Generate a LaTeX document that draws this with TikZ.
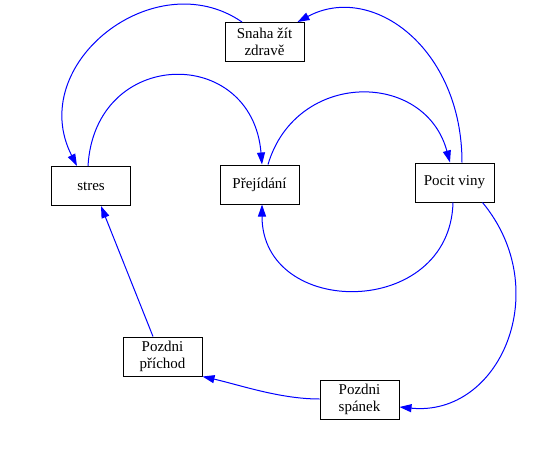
\documentclass[tikz,border=0pt]{standalone}
\usepackage{fontspec}
\setmainfont{Liberation Serif}
\usetikzlibrary{arrows.meta,calc}
\begin{document}
\begin{tikzpicture}[x=0.75pt,y=-0.75pt,
  box/.style={draw=black,line width=0.75pt,minimum width=59.25pt,minimum height=29.25pt,
    inner sep=1pt,align=center,font=\fontsize{11.25}{12.75}\selectfont},
  edge/.style={draw=blue,line width=0.75pt,-{Triangle[length=9pt,width=6pt]}}]
\useasboundingbox (0,0) rectangle (543,450);
\node[box] (snaha) at (264.5,42) {Snaha žít\\zdravě};
\node[box] (stres) at (91,186) {stres};
\node[box] (prej) at (259.5,184.5) {Přejídání};
\node[box] (pocit) at (454.5,182.5) {Pocit viny};
\node[box] (prich) at (162.5,356.5) {Pozdni\\příchod};
\node[box] (span) at (359.5,399.5) {Pozdni\\spánek};
\draw[edge] ($(snaha.north)+(-22.5,0)$) .. controls (155,-38) and (25,64) .. ($(stres.north)+(-14,0)$);
\draw[edge] ($(pocit.north)+(7.5,0)$) .. controls (462,48) and (372,-18) .. ($(snaha.north east)+(-7,0)$);
\draw[edge] ($(stres.north)+(-3,0)$) .. controls (95,47) and (252,45) .. ($(prej.north)+(2.5,0)$);
\draw[edge] ($(prej.north)+(8.5,0)$) .. controls (296,70) and (425,70) .. ($(pocit.north)+(-4.5,0)$);
\draw[edge] ($(pocit.south)+(-1.5,0)$) .. controls (450,319) and (262,319) .. ($(prej.south)+(2.5,0)$);
\draw[edge] ($(pocit.south east)+(-12,0)$) .. controls (555,290) and (500,417) .. ($(span.east)+(0,7.5)$);
\draw[edge] ($(span.west)+(0,-0.5)$) .. controls (280,399) and (240,385) .. (prich.south east);
\draw[edge] ($(prich.north)+(-9.5,0)$) -- ($(stres.south)+(10,0)$);
\end{tikzpicture}
\end{document}
